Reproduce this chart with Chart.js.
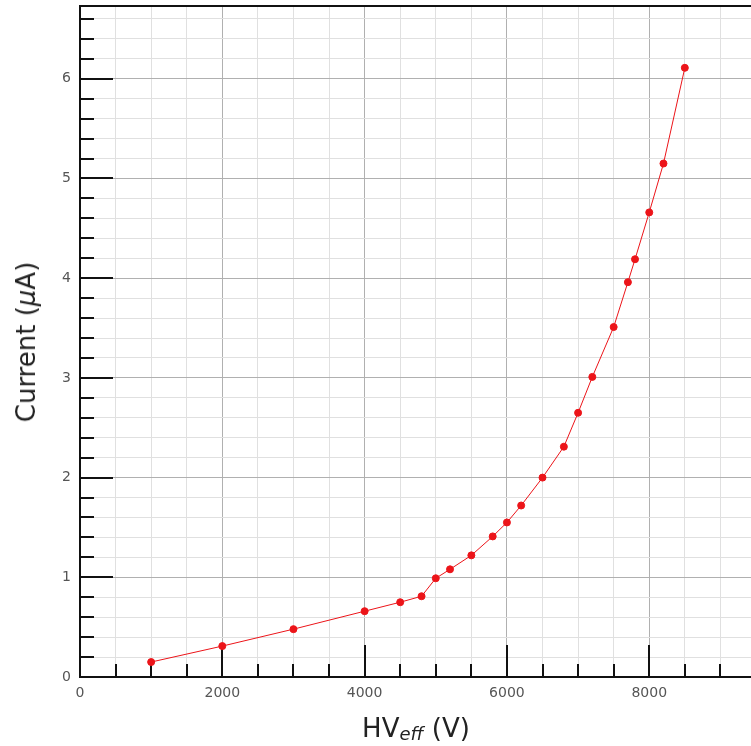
<!DOCTYPE html>
<html>
<head>
<meta charset="utf-8">
<script src="https://cdn.jsdelivr.net/npm/chart.js@4/dist/chart.umd.min.js"></script>
<style>
  body { margin: 0; background: #fff; overflow: hidden; }
  #wrap { position: relative; width: 751px; height: 746px; }
  .axtitle { position: absolute; font-family: "DejaVu Sans", sans-serif; font-size: 26px; line-height: 26px; color: #222; white-space: nowrap; }
  #xtitle { left: 0; width: 832px; text-align: center; top: 715px; }
  #ytitle { left: 26px; top: 342px; transform: translate(-50%, -50%) rotate(-90deg); }
  sub { font-size: 18px; vertical-align: -3px; line-height: 0; }
</style>
</head>
<body>
<div id="wrap">
  <canvas id="chart" width="751" height="746"></canvas>
  <div class="axtitle" id="xtitle">HV<sub><i>eff</i></sub> (V)</div>
  <div class="axtitle" id="ytitle">Current (<i>μ</i>A)</div>
</div>
<script>
// measured points
const hvEff = [1000, 2000, 3000, 4000, 4500, 4800, 5000, 5200, 5500, 5800, 6000,
               6200, 6500, 6800, 7000, 7200, 7500, 7700, 7800, 8000, 8200, 8500];
const current = [0.15, 0.31, 0.48, 0.66, 0.75, 0.81, 0.99, 1.08, 1.22, 1.41, 1.55,
                 1.72, 2.00, 2.31, 2.65, 3.01, 3.51, 3.96, 4.19, 4.66, 5.15, 6.11];

const xRange = [0, 9430];
const yRange = [0, 6.73];
const xMinorStep = 500, xMajorStep = 2000;
const yMinorStep = 0.2, yMajorStep = 1;
const xLabels = [0, 2000, 4000, 6000, 8000];
const yLabels = [0, 1, 2, 3, 4, 5, 6];

const isMajor = (v, step) => Math.abs(v / step - Math.round(v / step)) < 1e-6;

// chart.js would stretch the step to fit max, so set the ticks ourselves
function stepTicks(min, max, step) {
  const out = [];
  for (let i = 0; min + i * step <= max + 1e-9; i++) {
    out.push({ value: Math.round((min + i * step) * 1000) / 1000 });
  }
  return out;
}

// ticks drawn inside the plot + top frame line
const innerTicks = {
  id: "innerTicks",
  beforeDatasetsDraw(chart) {
    const { ctx, chartArea, scales } = chart;
    ctx.save();
    ctx.strokeStyle = "#111";
    ctx.lineWidth = 2;
    ctx.beginPath();
    scales.x.ticks.forEach(t => {
      if (t.value === 0) return;
      const px = Math.round(scales.x.getPixelForValue(t.value));
      const len = isMajor(t.value, xMajorStep) ? 32 : 13;
      ctx.moveTo(px, chartArea.bottom);
      ctx.lineTo(px, chartArea.bottom - len);
    });
    scales.y.ticks.forEach(t => {
      const py = Math.round(scales.y.getPixelForValue(t.value));
      const len = isMajor(t.value, yMajorStep) ? 33 : 14;
      ctx.moveTo(chartArea.left, py);
      ctx.lineTo(chartArea.left + len, py);
    });
    ctx.stroke();
    ctx.beginPath();
    ctx.moveTo(chartArea.left, chartArea.top);
    ctx.lineTo(chartArea.right + 10, chartArea.top);
    ctx.stroke();
    ctx.restore();
  }
};

new Chart(document.getElementById("chart"), {
  type: "scatter",
  data: {
    datasets: [{
      data: hvEff.map((x, i) => ({ x, y: current[i] })),
      showLine: true,
      borderColor: "#ec1419",
      backgroundColor: "#ec1419",
      borderWidth: 1,
      pointRadius: 3.5,
      pointHoverRadius: 3.5
    }]
  },
  options: {
    responsive: false,
    animation: false,
    events: [],
    layout: { autoPadding: false, padding: { top: 6, right: 0, left: 0, bottom: 0 } },
    plugins: { legend: { display: false }, tooltip: { enabled: false } },
    scales: {
      x: {
        type: "linear",
        min: xRange[0], max: xRange[1],
        afterBuildTicks: s => { s.ticks = stepTicks(xRange[0], xRange[1], xMinorStep); },
        afterFit: s => { s.height = 69; s.paddingLeft = 0; s.paddingRight = 0; },
        border: { color: "#111", width: 2 },
        grid: {
          drawTicks: false,
          color: c => isMajor(c.tick.value, xMajorStep) ? "#b0b0b0" : "#e0e0e0",
          lineWidth: 1
        },
        ticks: {
          autoSkip: false,
          maxRotation: 0,
          padding: 8,
          color: "#555",
          font: { family: "DejaVu Sans", size: 14 },
          callback: v => xLabels.includes(v) ? String(v) : ""
        }
      },
      y: {
        type: "linear",
        min: yRange[0], max: yRange[1],
        afterBuildTicks: s => { s.ticks = stepTicks(yRange[0], yRange[1], yMinorStep); },
        afterFit: s => { s.width = 80; s.paddingTop = 0; s.paddingBottom = 0; },
        border: { color: "#111", width: 2 },
        grid: {
          drawTicks: false,
          color: c => isMajor(c.tick.value, yMajorStep) ? "#b0b0b0" : "#e0e0e0",
          lineWidth: 1
        },
        ticks: {
          autoSkip: false,
          padding: 9,
          color: "#555",
          font: { family: "DejaVu Sans", size: 14 },
          callback: v => yLabels.includes(v) ? String(v) : ""
        }
      }
    }
  },
  plugins: [innerTicks]
});
</script>
</body>
</html>
